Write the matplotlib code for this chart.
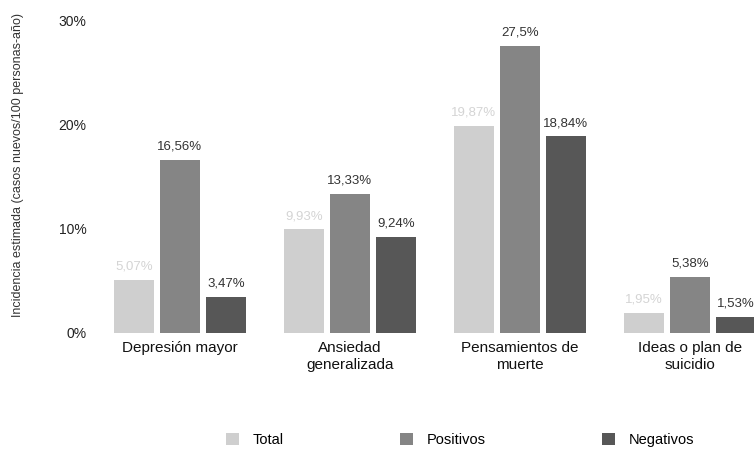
import matplotlib
matplotlib.use("Agg")
import matplotlib.pyplot as plt
import numpy as np
from matplotlib.patches import Patch

categories = ["Depresión mayor", "Ansiedad\ngeneralizada", "Pensamientos de\nmuerte", "Ideas o plan de\nsuicidio"]
series_names = ["Total", "Positivos", "Negativos"]
total = [5.07, 9.93, 19.87, 1.95]
positivos = [16.56, 13.33, 27.5, 5.38]
negativos = [3.47, 9.24, 18.84, 1.53]
value_labels = [
    ["5,07%", "9,93%", "19,87%", "1,95%"],
    ["16,56%", "13,33%", "27,5%", "5,38%"],
    ["3,47%", "9,24%", "18,84%", "1,53%"],
]
yticks = [0, 10, 20, 30]
ytick_labels = ["0%", "10%", "20%", "30%"]
ylabel = "Incidencia estimada (casos nuevos/100 personas-año)"

plt.rcParams["font.family"] = ["Liberation Sans Narrow", "Liberation Sans", "DejaVu Sans"]

colors = ["#cfcfcf", "#858585", "#575757"]
label_colors = ["#d4d4d4", "#333333", "#333333"]

fig = plt.figure(figsize=(7.54, 4.55), dpi=100)
ax = fig.add_axes([95 / 754, 1 - 333 / 455, 659 / 754, 313 / 455])

x = np.arange(len(categories))
width = 40 / 170
offset = 46 / 170
series = [total, positivos, negativos]
for i, (vals, col) in enumerate(zip(series, colors)):
    pos = x + (i - 1) * offset
    ax.bar(pos, vals, width=width, color=col, edgecolor="none")
    for xp, v, lab in zip(pos, vals, value_labels[i]):
        ax.text(xp, v + 0.7, lab, ha="center", va="bottom", fontsize=9.5,
                color=label_colors[i])

ax.set_xlim(-0.5, 659 / 170 - 0.5)
ax.set_ylim(0, 30)
ax.set_yticks(yticks)
ax.set_yticklabels(ytick_labels, fontsize=10, color="#222222")
ax.set_xticks(x)
ax.set_xticklabels(categories, fontsize=11, color="#111111")
ax.tick_params(axis="both", length=0, pad=6)
ax.tick_params(axis="y", pad=6)
for s in ax.spines.values():
    s.set_visible(False)

fig.text(18 / 754, 1 - 165 / 455, ylabel, rotation=90, ha="center", va="center",
         fontsize=9, color="#333333")

handles = [Patch(facecolor=c, edgecolor="none") for c in colors]
fig.legend(handles, series_names, loc="center", bbox_to_anchor=(460 / 754, 1 - 440 / 455),
           ncol=3, frameon=False, fontsize=10.5, handlelength=0.9, handleheight=0.9,
           columnspacing=8, handletextpad=0.9)

fig.savefig("out.png", dpi=100)
